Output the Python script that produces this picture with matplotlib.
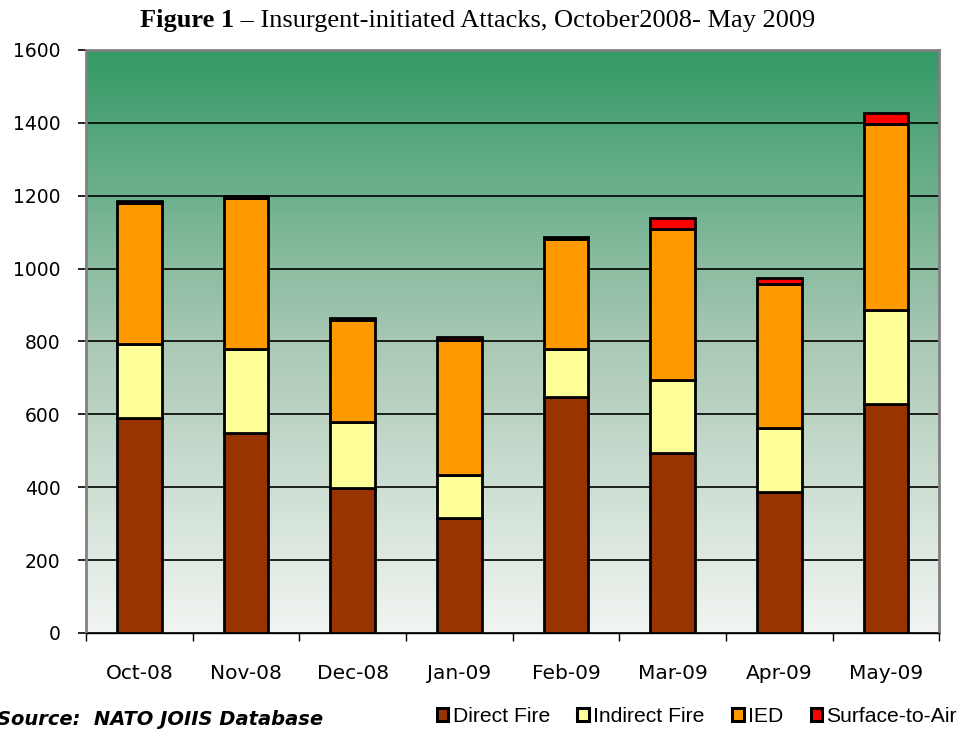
import numpy as np
import matplotlib.pyplot as plt
from matplotlib.colors import LinearSegmentedColormap
from matplotlib.patches import Rectangle

# veriler
months = ['Oct-08', 'Nov-08', 'Dec-08', 'Jan-09', 'Feb-09', 'Mar-09', 'Apr-09', 'May-09']
direct_fire = [590, 549, 398, 316, 648, 494, 387, 628]
indirect_fire = [203, 230, 181, 118, 131, 200, 176, 258]
ied = [387, 415, 280, 370, 302, 415, 395, 511]
surface_to_air = [6, 5, 5, 8, 6, 30, 16, 30]

series = [
    ('Direct Fire', direct_fire, '#993300'),
    ('Indirect Fire', indirect_fire, '#ffff99'),
    ('IED', ied, '#ff9900'),
    ('Surface-to-Air', surface_to_air, '#ff0000'),
]

fig = plt.figure(figsize=(9.73, 7.38), dpi=100)
ax = fig.add_axes([0.0884, 0.1423, 0.877, 0.79])

x = np.arange(len(months))

# arka plan gradyani
cmap = LinearSegmentedColormap.from_list('bg', ['#f2f5f2', '#a9c8b4', '#339966'])
grad = np.linspace(0, 1, 256).reshape(-1, 1)
ax.imshow(grad, cmap=cmap, origin='lower', aspect='auto',
          extent=[-0.5, len(months) - 0.5, 0, 1600], zorder=0)

bottom = np.zeros(len(months))
for name, vals, col in series:
    ax.bar(x, vals, bottom=bottom, width=0.42, color=col, edgecolor='black',
           linewidth=2, label=name, zorder=3)
    bottom += np.array(vals)

ax.set_xlim(-0.5, len(months) - 0.5)
ax.set_ylim(0, 1600)
ax.set_yticks(range(0, 1601, 200))
ax.yaxis.grid(True, color='black', linewidth=1.2, zorder=1)
ax.set_axisbelow(True)

ax.set_xticks(x)
ax.set_xticklabels(months, fontsize=14.5, fontfamily='DejaVu Sans')
ax.set_xticks(np.arange(-0.5, len(months)), minor=True)
ax.tick_params(axis='x', which='major', length=0, pad=22)
ax.tick_params(axis='x', which='minor', length=6, width=1, direction='out')
ax.tick_params(axis='y', length=5.5, width=1.2, labelsize=13.5, pad=13)
for lab in ax.get_yticklabels():
    lab.set_fontfamily('DejaVu Sans')

for s in ['left', 'top', 'right']:
    ax.spines[s].set_color('#808080')
    ax.spines[s].set_linewidth(2)
ax.spines['bottom'].set_color('black')
ax.spines['bottom'].set_linewidth(1)

# baslik: kalin kisim + normal kisim yan yana
t1 = fig.text(140 / 973, 0.972, 'Figure 1', fontsize=19, fontweight='bold',
              fontfamily='Liberation Serif', va='center')
fig.canvas.draw()
bb = t1.get_window_extent()
fig.text(bb.x1 / fig.bbox.width, 0.972,
         ' \u2013 Insurgent-initiated Attacks, October2008- May 2009',
         fontsize=19, fontfamily='Liberation Serif', va='center')

# kaynak
fig.text(-0.003, 0.012, 'Source:  NATO JOIIS Database', fontsize=14,
         fontstyle='italic', fontweight='bold', fontfamily='DejaVu Sans',
         va='bottom')

# lejant
handles = [Rectangle((0, 0), 1, 1, facecolor=c, edgecolor='black', linewidth=2.2)
           for _, _, c in series]
labels = [n for n, _, _ in series]
fig.legend(handles, labels, loc='lower right', bbox_to_anchor=(1.003, -0.009),
           ncol=4, frameon=False, handlelength=0.55, handleheight=0.55,
           handletextpad=0.2, columnspacing=1.3,
           prop={'family': 'Liberation Sans', 'size': 15.2})

plt.savefig('out.png', dpi=100)
